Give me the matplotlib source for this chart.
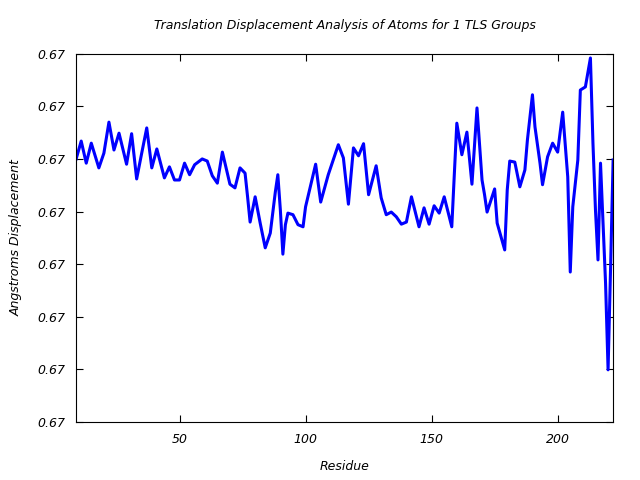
import matplotlib
matplotlib.use('Agg')
import matplotlib.pyplot as plt
from matplotlib.ticker import FormatStrFormatter

# residue numbers and displacement (turning points)
residue = [9, 11, 13, 15, 18, 20, 22, 24, 26, 29, 31, 33, 35, 37, 39, 41, 44, 46, 48, 50,
           52, 54, 56, 59, 61, 63, 65, 67, 70, 72, 74, 76, 77, 78, 80, 82, 84, 86, 88, 89,
           90, 91, 92, 93, 95, 97, 99, 100, 104, 106, 109, 113, 115, 117, 119, 121, 123, 125, 128, 130,
           132, 134, 136, 138, 140, 142, 145, 147, 149, 151, 153, 155, 158, 159, 160, 162, 164, 166, 168, 170,
           171, 172, 175, 176, 179, 180, 181, 183, 185, 187, 188, 190, 191, 193, 194, 196, 198, 200, 202, 204,
           205, 206, 208, 209, 211, 213, 214, 215, 216, 217, 219, 220, 221, 222]
disp = [5.00, 5.34, 4.92, 5.30, 4.83, 5.11, 5.70, 5.17, 5.49, 4.90, 5.48, 4.62, 5.11, 5.59, 4.83, 5.19, 4.64, 4.85, 4.60, 4.60,
        4.92, 4.70, 4.89, 5.00, 4.96, 4.68, 4.54, 5.13, 4.52, 4.45, 4.83, 4.73, 4.28, 3.80, 4.28, 3.78, 3.31, 3.59, 4.37, 4.70,
        4.03, 3.19, 3.75, 3.97, 3.94, 3.75, 3.71, 4.09, 4.90, 4.18, 4.70, 5.27, 5.02, 4.14, 5.21, 5.06, 5.29, 4.32, 4.87, 4.26,
        3.94, 3.99, 3.90, 3.76, 3.80, 4.28, 3.71, 4.07, 3.76, 4.11, 3.97, 4.28, 3.71, 4.70, 5.68, 5.08, 5.51, 4.52, 5.97, 4.60,
        4.32, 3.99, 4.43, 3.78, 3.27, 4.41, 4.96, 4.94, 4.47, 4.79, 5.36, 6.22, 5.61, 4.92, 4.51, 5.04, 5.30, 5.13, 5.89, 4.66,
        2.85, 4.09, 4.98, 6.31, 6.37, 6.92, 5.30, 4.03, 3.08, 4.92, 2.64, 0.99, 2.95, 4.98]
disp = [0.67 + d * 0.0001 for d in disp]

yticks = [0.67 + k * 0.0001 for k in range(8)]

fig = plt.figure(figsize=(6.4, 4.8), dpi=100)
ax = fig.add_axes([0.119, 0.121, 0.839, 0.767])

ax.plot(residue, disp, color='#0000ff', linewidth=2.2)

ax.set_xlim(9, 222)
ax.set_ylim(0.67, 0.6707)
ax.set_xticks([50, 100, 150, 200])
ax.set_yticks(yticks)
ax.yaxis.set_major_formatter(FormatStrFormatter('%.2f'))
ax.tick_params(direction='in', top=True, right=True, length=5, labelsize=9, pad=8)
for lab in ax.get_xticklabels() + ax.get_yticklabels():
    lab.set_fontstyle('italic')

ax.set_title('Translation Displacement Analysis of Atoms for 1 TLS Groups',
             fontsize=9, fontstyle='italic', pad=18)
ax.set_xlabel('Residue', fontsize=9, fontstyle='italic', labelpad=10)
ax.set_ylabel('Angstroms Displacement', fontsize=9, fontstyle='italic', labelpad=10)

fig.savefig('out.png', dpi=100)
